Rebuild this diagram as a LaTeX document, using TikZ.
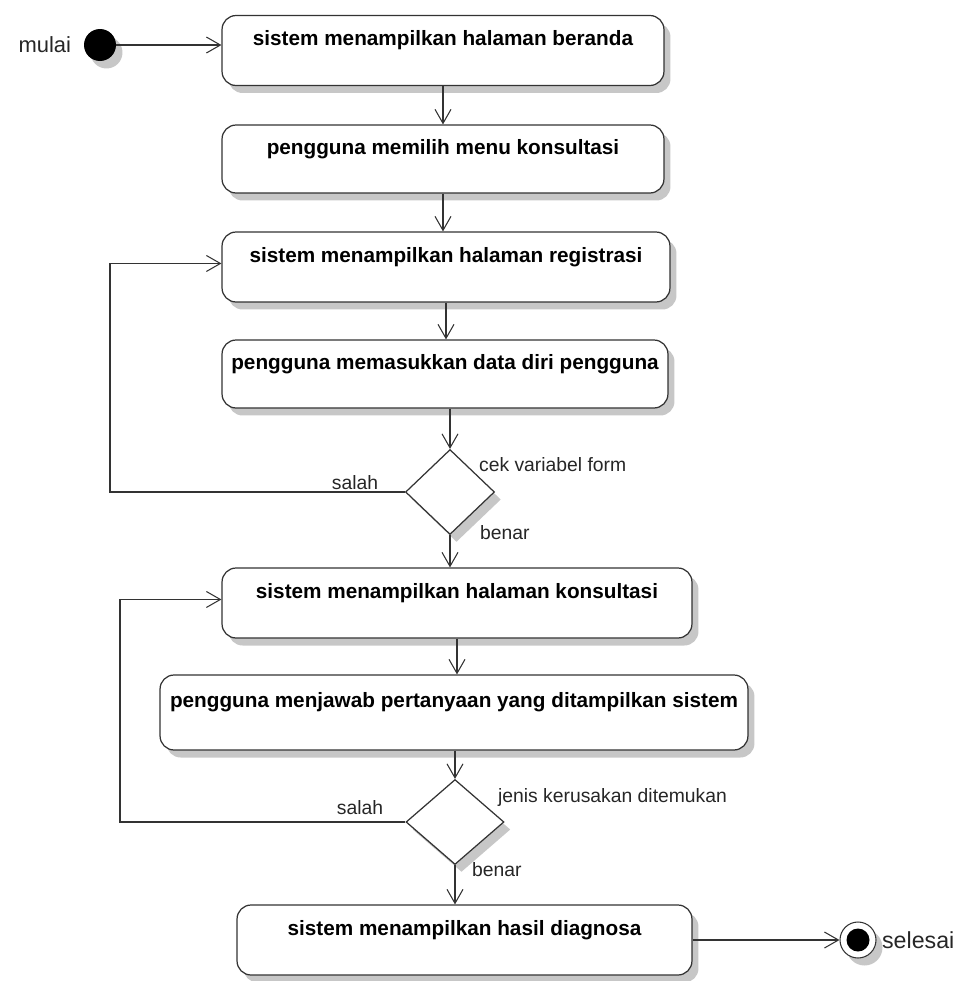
\documentclass[tikz,border=0pt]{standalone}
\usepackage{fontspec}
\setmainfont{Liberation Sans}
\usetikzlibrary{arrows.meta, positioning, shapes.geometric, shadows}

\begin{document}
\begin{tikzpicture}[
        x=0.02cm, y=-0.02cm,
        shade/.style={drop shadow={shadow xshift=0.13cm, shadow yshift=-0.15cm, fill=black!22, opacity=1}},
        act/.style={draw=black!80, line width=0.7pt, rectangle, rounded corners=8pt, fill=white, shade, align=center,
            minimum height=1.4cm, text height=9pt, text depth=14.5pt, font=\bfseries\fontsize{11.8}{14}\selectfont},
        choice/.style={draw=black!80, line width=0.7pt, diamond, fill=white, shade, inner sep=0pt, minimum height=1.7cm},
        lbl/.style={font=\fontsize{11}{13}\selectfont, text=black!85, inner sep=1pt},
        arrow/.style={-{Straight Barb[length=2.8mm, width=3.2mm]}, draw=black!80, line width=0.6pt}
    ]
    \useasboundingbox (0,0) rectangle (966,981);
    % Nodes
    \node (start) [circle, fill=black, minimum size=0.64cm, inner sep=0pt, shade] at (100,45) {};
    \node (mulai) [lbl, left=6pt of start, font=\fontsize{12.5}{14}\selectfont] {mulai};
    \node (box1) [act, minimum width=8.84cm] at (443,50.5) {sistem menampilkan halaman beranda};
    \node (box2) [act, minimum width=8.84cm, minimum height=1.36cm] at (443,159) {pengguna memilih menu konsultasi};
    \node (box3) [act, minimum width=8.96cm] at (446,267) {sistem menampilkan halaman registrasi};
    \node (box4) [act, minimum width=8.92cm, minimum height=1.36cm] at (445,374) {pengguna memasukkan data diri pengguna};
    \node (cek) [choice, minimum width=1.78cm] at (450,492) {};
    \node (box5) [act, minimum width=9.4cm] at (457,603) {sistem menampilkan halaman konsultasi};
    \node (box6) [act, minimum width=11.76cm, minimum height=1.5cm] at (454,712.5) {pengguna menjawab pertanyaan yang ditampilkan sistem};
    \node (jenis) [choice, minimum width=1.96cm] at (455,822) {};
    \node (box7) [act, minimum width=9.1cm] at (464.5,940) {sistem menampilkan hasil diagnosa};
    \node (stop) [circle, draw=black!80, line width=0.6pt, fill=white, minimum size=0.72cm, inner sep=0pt, shade] at (858,940) {};
    \node (stopdot) [circle, fill=black, minimum size=0.46cm, inner sep=0pt] at (stop) {};
    \node (selesai) [lbl, right=2pt of stop, font=\fontsize{13.2}{15}\selectfont] {selesai};

    % Labels
    \node (cektxt) [lbl, anchor=west] at (477,465) {cek variabel form};
    \node (salah1) [lbl] at (355,483) {salah};
    \node (benar1) [lbl, anchor=west] at (478,533) {benar};
    \node (jenistxt) [lbl, anchor=west] at (496,797) {jenis kerusakan ditemukan};
    \node (salah2) [lbl] at (360,808) {salah};
    \node (benar2) [lbl, anchor=west] at (470,870) {benar};

    \coordinate (loop1) at (110,0);
    \coordinate (loop2) at (120,0);

    % Arrows
    \draw[arrow] (start) -- (start -| box1.west);
    \draw[arrow] (box1.south) -- (box2.north);
    \draw[arrow] (box2.south) -- (box2.south |- box3.north);
    \draw[arrow] (box3.south) -- (box3.south |- box4.north);
    \draw[arrow] (cek.north |- box4.south) -- (cek.north);
    \draw[arrow] (cek.south) -- (cek.south |- box5.north);
    \draw[arrow] (cek.west) -- (cek.west -| loop1) |- ([yshift=2pt]box3.west);
    \draw[arrow] (box5.south) -- (box5.south |- box6.north);
    \draw[arrow] (jenis.north |- box6.south) -- (jenis.north);
    \draw[arrow] (jenis.south) -- (jenis.south |- box7.north);
    \draw[arrow] (jenis.west) -- (jenis.west -| loop2) |- ([yshift=2pt]box5.west);
    \draw[arrow] (box7) -- (stop);
\end{tikzpicture}
\end{document}
